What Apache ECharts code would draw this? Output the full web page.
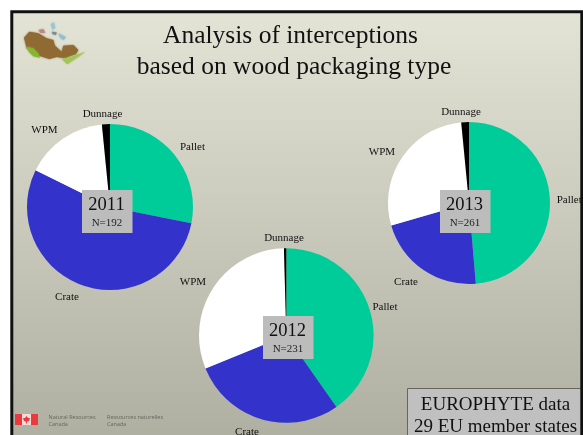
<!DOCTYPE html>
<html>
<head>
<meta charset="utf-8">
<script src="https://cdn.jsdelivr.net/npm/echarts@6/dist/echarts.min.js"></script>
<style>html,body{margin:0;padding:0;background:#fff}#c{width:583px;height:435px;filter:blur(0.35px)}</style>
</head>
<body>
<div id="c"></div>
<script>
var categories = ['Pallet', 'Crate', 'WPM', 'Dunnage'];
var years = ['2011', '2012', '2013'];
var sampleSizes = ['N=192', 'N=231', 'N=261'];
var values2011 = [54, 104, 31, 3];
var values2012 = [93, 66, 71, 1];
var values2013 = [127, 57, 73, 4];
var titleLines = ['Analysis of interceptions', 'based on wood packaging type'];
var noteLines = ['EUROPHYTE data', '29 EU member states'];

var colors = ['#00cc99', '#3333cc', '#ffffff', '#000000'];
var serif = '"Liberation Serif", serif';
var layouts = [
  {values: values2011, center: [110, 207], r: 83, box: [82, 190],
   labels: [[192.5, 147], [67, 297.5], [44.5, 130.5], [102.5, 114.5]]},
  {values: values2012, center: [286.3, 335.5], r: 87.3, box: [263, 316],
   labels: [[385, 307], [247, 432], [193, 282.5], [284, 238.5]]},
  {values: values2013, center: [469, 203], r: 81, box: [440, 190],
   labels: [[569.2, 200], [406, 282], [382, 152], [461, 112.5]]}
];

var series = layouts.map(function (l) {
  return {
    type: 'pie', animation: false, silent: true,
    center: l.center, radius: [0, l.r], startAngle: 90, clockwise: true,
    minAngle: 0, avoidLabelOverlap: false, z: 2,
    data: categories.map(function (c, i) {
      return {name: c, value: l.values[i], itemStyle: {color: colors[i]}};
    }),
    label: {show: true, position: 'outside', formatter: '{b}', fontFamily: serif, fontSize: 11, color: '#111'},
    labelLine: {show: false},
    labelLayout: function (p) {
      var q = l.labels[p.dataIndex];
      return {x: q[0], y: q[1], align: 'center', verticalAlign: 'middle'};
    }
  };
});

var g = [];
g.push({type: 'rect', z: -10, shape: {x: 11, y: 11, width: 571, height: 430},
  style: {fill: {type: 'linear', x: 0, y: 0, x2: 0, y2: 1, colorStops: [
    {offset: 0, color: '#e4e4d6'}, {offset: 1, color: '#aeafa1'}]}}});

layouts.forEach(function (l, i) {
  g.push({type: 'rect', z: 10, shape: {x: l.box[0], y: l.box[1], width: 50.5, height: 43}, style: {fill: '#bcbcbc'}});
  g.push({type: 'text', z: 11, x: l.box[0] + 24.5, y: l.box[1] + 15.5, style: {text: years[i], font: '18.5px ' + serif, fill: '#111', align: 'center', verticalAlign: 'middle'}});
  g.push({type: 'text', z: 11, x: l.box[0] + 25, y: l.box[1] + 33, style: {text: sampleSizes[i], font: '11px ' + serif, fill: '#222', align: 'center', verticalAlign: 'middle'}});
});

titleLines.forEach(function (t, i) {
  g.push({type: 'text', z: 11, x: 290.5 + i * 3.5, y: 36 + i * 31, style: {text: t, font: '25.5px ' + serif, fill: '#111', align: 'center', verticalAlign: 'middle'}});
});

g.push({type: 'rect', z: 10, shape: {x: 407.5, y: 388.5, width: 175, height: 60}, style: {fill: '#c0c0c0', stroke: '#66665c', lineWidth: 1}});
noteLines.forEach(function (t, i) {
  g.push({type: 'text', z: 11, x: 495.5, y: 405 + i * 22.5, style: {text: t, font: '19px ' + serif, fill: '#111', align: 'center', verticalAlign: 'middle'}});
});

// Canada map logo
function blob(points, fill, blur) {
  g.push({type: 'polygon', z: 5, shape: {points: points.map(function (p) { return [10 + p[0] / 3, 15 + p[1] / 3]; })},
    style: {fill: fill, shadowBlur: blur || 2, shadowColor: fill}});
}
blob([[42,68],[58,50],[85,55],[110,70],[130,75],[135,92],[155,110],[160,92],[190,90],[205,105],[198,118],[180,124],[165,130],[140,126],[118,132],[80,120],[50,100]], '#8f6a32');
blob([[48,95],[70,100],[85,116],[90,128],[70,124],[58,112]], '#86b530');
blob([[155,132],[175,128],[205,118],[226,110],[208,124],[190,136],[172,148]], '#a4c458');
blob([[122,28],[132,22],[136,38],[128,46]], '#9cc4d0');
blob([[145,55],[168,66],[160,76],[150,68]], '#8fc0cf');
blob([[125,50],[140,52],[138,60],[128,58]], '#7d8f8a');
blob([[85,45],[100,42],[106,54],[92,54]], '#b88a80');

// Government wordmark
g.push({type: 'rect', z: 5, shape: {x: 15, y: 414, width: 23, height: 11}, style: {fill: '#f2dcd8'}});
g.push({type: 'rect', z: 6, shape: {x: 15, y: 414, width: 7, height: 11}, style: {fill: '#ea3a40'}});
g.push({type: 'rect', z: 6, shape: {x: 31, y: 414, width: 7, height: 11}, style: {fill: '#ea3a40'}});
g.push({type: 'polygon', z: 6, shape: {points: [[26.5,416],[28,418],[30,418],[29,421],[27,421.5],[27,423.5],[26,423.5],[26,421.5],[24,421],[23,418],[25,418]]}, style: {fill: '#ea3a40'}});
[['Natural Resources', 48.5, 417], ['Canada', 48.5, 424], ['Ressources naturelles', 107, 417], ['Canada', 107, 424]].forEach(function (t) {
  g.push({type: 'text', z: 6, x: t[1], y: t[2], style: {text: t[0], font: '5.5px "Open Sans", sans-serif', fill: '#66665e', align: 'left', verticalAlign: 'middle'}});
});

// Slide frame
g.push({type: 'rect', z: 100, shape: {x: 11.8, y: 11.8, width: 570, height: 440}, style: {fill: 'none', stroke: '#111', lineWidth: 3}});

var chart = echarts.init(document.getElementById('c'), null, {renderer: 'canvas'});
chart.setOption({animation: false, backgroundColor: '#ffffff', graphic: {elements: g}, series: series});
</script>
</body>
</html>
